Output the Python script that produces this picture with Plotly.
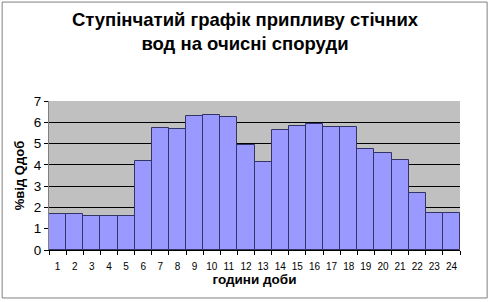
import plotly.graph_objects as go

hours = [str(i) for i in range(1, 25)]
values = [1.7, 1.7, 1.62, 1.62, 1.62, 4.2, 5.72, 5.67, 6.28, 6.34, 6.25, 4.95,
          4.12, 5.64, 5.83, 5.93, 5.79, 5.77, 4.74, 4.55, 4.24, 2.69, 1.72, 1.75]
y_ticks = [0, 1, 2, 3, 4, 5, 6, 7]

title_text = "Ступінчатий графік припливу стічних<br>вод на очисні споруди"
x_title = "години доби"
y_title = "%від Qдоб"

fig = go.Figure(go.Bar(
    x=hours, y=values, width=1.0,
    marker=dict(color="#9999FF", line=dict(color="#333366", width=1)),
))

fig.update_layout(
    width=490, height=302,
    margin=dict(l=49, r=30, t=101, b=52),
    paper_bgcolor="white", plot_bgcolor="#C0C0C0",
    font=dict(family="Liberation Sans, Arial, sans-serif", color="black"),
    showlegend=False,
    title=dict(text="<b>" + title_text + "</b>", x=0.5, xanchor="center",
               y=0.915, yanchor="top", font=dict(size=18.5)),
    bargap=0,
)
fig.update_xaxes(
    type="category", showgrid=False, ticks="outside", tickson="boundaries",
    ticklen=4, tickcolor="black", tickfont=dict(size=10), tickangle=0,
    ticklabelstandoff=7,
    showline=True, linecolor="black", linewidth=1,
    title=dict(text="<b>" + x_title + "</b>", font=dict(size=13.5), standoff=3),
)
fig.update_yaxes(
    range=[0, 7], tickvals=y_ticks, showgrid=True, gridcolor="black", gridwidth=1,
    ticks="outside", ticklen=4, tickcolor="black", tickfont=dict(size=13.5),
    showline=True, linecolor="#808080", linewidth=1, zeroline=False,
    title=dict(text="<b>" + y_title + "</b>", font=dict(size=13), standoff=6),
)
fig.add_shape(type="rect", xref="paper", yref="paper", x0=-0.114, x1=1.066, y0=-0.322, y1=1.664,
              line=dict(color="#808080", width=1), fillcolor="rgba(0,0,0,0)", layer="below")

fig.write_html("out.html")
